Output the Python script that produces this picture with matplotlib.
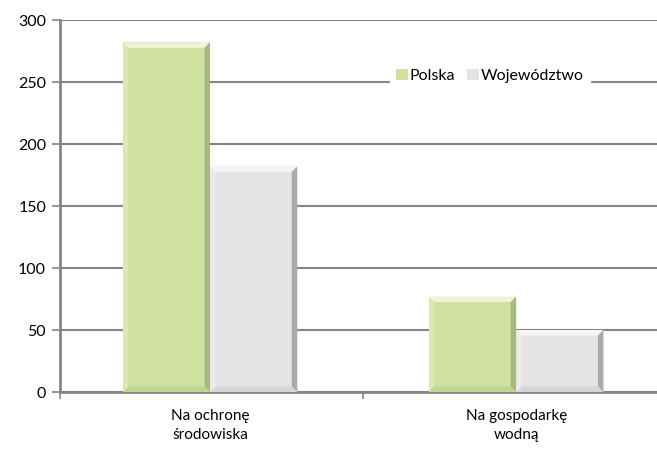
import matplotlib
matplotlib.use('Agg')
import matplotlib.pyplot as plt
from matplotlib.patches import Polygon
import numpy as np

categories = ["Na ochronę\nśrodowiska", "Na gospodarkę\nwodną"]
series_names = ["Polska", "Województwo"]
polska = [282, 77]
wojewodztwo = [182, 50]

plt.rcParams['font.family'] = ['Lato', 'DejaVu Sans']

fig = plt.figure(figsize=(6.57, 4.51), dpi=100)
ax = fig.add_axes([60 / 657, 59 / 451, 1 - 60 / 657, 372 / 451])

x = np.arange(len(categories))
w = 0.285
face = {"Polska": "#cfe0a1", "Województwo": "#e4e4e4"}
light = {"Polska": "#eef6d8", "Województwo": "#f6f6f6"}
dark = {"Polska": "#a6b883", "Województwo": "#ababab"}
mid = {"Polska": "#c2d493", "Województwo": "#d6d6d6"}

bars_p = ax.bar(x - w / 2, polska, w, color=face["Polska"], label="Polska", zorder=3)
bars_w = ax.bar(x + w / 2, wojewodztwo, w, color=face["Województwo"], label="Województwo", zorder=3)

ax.set_xlim(-0.49, 1.46)
ax.set_ylim(0, 300)

# bevel effect, built from the bar geometry
dx, dy = 0.018, 4.5
for name, bars in (("Polska", bars_p), ("Województwo", bars_w)):
    for b in bars:
        x0, y0 = b.get_x(), b.get_y()
        x1, y1 = x0 + b.get_width(), y0 + b.get_height()
        top = [(x0, y1), (x1, y1), (x1 - dx, y1 - dy), (x0 + dx, y1 - dy)]
        right = [(x1, y1), (x1, y0), (x1 - dx, y0 + dy), (x1 - dx, y1 - dy)]
        bottom = [(x0, y0), (x1, y0), (x1 - dx, y0 + dy), (x0 + dx, y0 + dy)]
        left = [(x0, y0), (x0, y1), (x0 + dx, y1 - dy), (x0 + dx, y0 + dy)]
        ax.add_patch(Polygon(top, closed=True, color=light[name], lw=0, zorder=4))
        ax.add_patch(Polygon(right, closed=True, color=dark[name], lw=0, zorder=4))
        ax.add_patch(Polygon(bottom, closed=True, color=mid[name], lw=0, zorder=4))
        ax.add_patch(Polygon(left, closed=True, color=light[name], lw=0, alpha=0.4, zorder=4))

ax.set_yticks(np.arange(0, 301, 50))
ax.yaxis.grid(True, color="#868686", lw=1.5, zorder=0)
ax.set_axisbelow(True)

ax.set_xticks(x)
ax.set_xticklabels(categories, fontsize=11, linespacing=1.5)
ax.set_xticks([-0.49, 0.5], minor=True)
ax.tick_params(axis='x', which='major', length=0, pad=12)
ax.tick_params(axis='x', which='minor', length=5, color="#868686", width=1.2)
ax.tick_params(axis='y', length=6, color="#868686", width=1.2, labelsize=11.5, pad=4)

for s in ("top", "right"):
    ax.spines[s].set_visible(False)
for s in ("left", "bottom"):
    ax.spines[s].set_color("#868686")
    ax.spines[s].set_linewidth(2)

leg = ax.legend(loc="center", bbox_to_anchor=(0.72, 0.85), ncol=2, frameon=True,
                fontsize=11.5, handlelength=0.7, handleheight=0.7, handletextpad=0.1,
                columnspacing=0.8, borderpad=0.4, borderaxespad=0)
leg.get_frame().set_edgecolor("white")
leg.get_frame().set_facecolor("white")
leg.get_frame().set_alpha(1)
leg.set_zorder(5)

fig.savefig("out.png", dpi=100)
plt.close('all')
